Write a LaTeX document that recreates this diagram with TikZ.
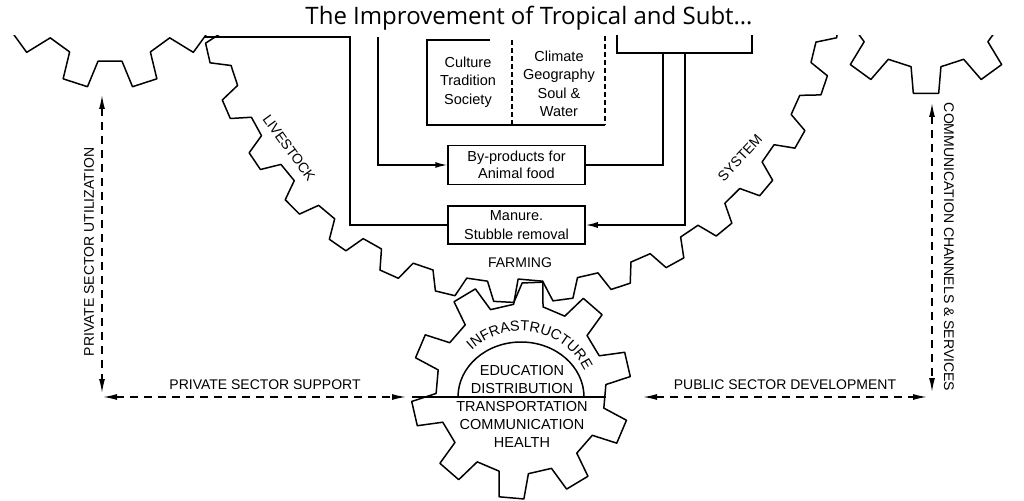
\documentclass[tikz,border=0pt]{standalone}
\usepackage{fontspec}
\setmainfont{Liberation Sans}
\newfontfamily\titlefont{Open Sans}
\usetikzlibrary{arrows.meta,decorations.text,calc}
\newcommand\drawgear[8]{%
  \pgfmathsetmacro\gearpitch{360/#5}%
  \pgfmathtruncatemacro\gearlast{#5-1}%
  \draw[gearline] ({#1+#3*cos(#6-#8)},{#2+#3*sin(#6-#8)})
    \foreach \k in {0,...,\gearlast}{
      -- ({#1+#3*cos(#6+\gearpitch*\k-#8)},{#2+#3*sin(#6+\gearpitch*\k-#8)})
      -- ({#1+#4*cos(#6+\gearpitch*\k-#7)},{#2+#4*sin(#6+\gearpitch*\k-#7)})
      -- ({#1+#4*cos(#6+\gearpitch*\k+#7)},{#2+#4*sin(#6+\gearpitch*\k+#7)})
      -- ({#1+#3*cos(#6+\gearpitch*\k+#8)},{#2+#3*sin(#6+\gearpitch*\k+#8)})
    } -- cycle;}
\begin{document}
\begin{tikzpicture}[x=1pt,y=-1pt,
  gearline/.style={line width=1.5pt,line join=round},
  wire/.style={line width=1.5pt},
  dwire/.style={line width=1.4pt,dash pattern=on 8pt off 6pt},
  arr/.style={-{Latex[length=12pt,width=6pt]}},
  darr/.style={{Latex[length=14pt,width=6pt]}-{Latex[length=14pt,width=6pt]}},
  boxnode/.style={draw,line width=1.5pt,minimum width=137pt,minimum height=39pt,inner sep=0pt,align=center,font=\fontsize{14.5}{17}\selectfont},
  lbl/.style={inner sep=0pt,font=\fontsize{14}{14}\selectfont},
  cell/.style={inner sep=0pt,align=center,font=\fontsize{14.5}{18.5}\selectfont},
  infra/.style={inner sep=0pt,align=center,font=\fontsize{14.5}{18}\selectfont}]
\useasboundingbox (0,0) rectangle (1024,500);
\fill[white] (0,0) rectangle (1024,500);
\node[font=\titlefont\fontsize{24}{28}\selectfont,anchor=base,inner sep=0pt] (title) at (529,25) {The Improvement of Tropical and Subt…};
\begin{scope}
\clip (0,36) rectangle (1024,500);
% gears
\drawgear{110}{-24}{86}{113}{10}{0}{6.5}{10}
\drawgear{926}{-18}{86}{112}{10}{18}{6.5}{10}
\drawgear{520.6}{-18.5}{301.5}{321}{34}{8.3}{1.8}{3.3}
\drawgear{521}{389}{85}{110}{10}{23}{6.5}{10}
% infrastructure gear interior
\draw[wire] (458,397) arc[start angle=180,end angle=0,x radius=63pt,y radius=55pt];
\draw[wire] (412,397) -- (606,397);
\coordinate (infraW) at (406,397);
\coordinate (infraE) at (643,397);
\path[decorate,decoration={text along path,text align=center,
  text={|\fontsize{14.5}{14.5}\selectfont|INFRASTRUCTURE}}]
  ($(521,402)+(145:71pt)$) arc[start angle=145,end angle=15,radius=71pt];
\node[infra] (infratext) at (522,406) {EDUCATION\\DISTRIBUTION\\TRANSPORTATION\\COMMUNICATION\\HEALTH};
% culture / climate box
\node[cell] (culture) at (468,82) {Culture\\Tradition\\Society};
\node[cell] (climate) at (559,84) {Climate\\Geography\\Soul \&\\Water};
\draw[wire,line width=1.9pt] (490,40) -- (427,40) -- (427,125) -- (605,125);
\draw[line width=1.3pt,dash pattern=on 5pt off 3pt] (512,40) -- (512,125);
\draw[line width=1.3pt,dash pattern=on 5pt off 3pt] (605,36) -- (605,125);
% boxes
\node[draw,line width=1.6pt,minimum width=135pt,minimum height=40pt,inner sep=0pt] (topbox) at (684.5,33) {};
\node[boxnode] (byprod) at (516.5,165) {By-products for\\Animal food};
\node[boxnode,minimum height=38pt,font=\fontsize{14.5}{19}\selectfont] (manure) at (516.5,225) {Manure.\\Stubble removal};
% connectors
\coordinate (gjoin) at (204,37);
\coordinate (lin1) at (350,37);
\coordinate (lin2) at (378,37);
\coordinate (tb1) at (663,53);
\coordinate (tb2) at (685,53);
\draw[wire] (gjoin) -- (lin1) |- (manure.west);
\draw[wire,arr] (lin2) |- (byprod.west);
\draw[wire] (byprod.east) -| (tb1);
\draw[wire,arr] (tb2) |- (manure.east);
% dashed arrows
\coordinate (pvT) at (102,95);
\coordinate (pvB) at (102,393);
\coordinate (phL) at (103,397);
\coordinate (cvT) at (932,103);
\coordinate (cvB) at (932,392);
\coordinate (chR) at (927,397);
\draw[dwire,darr] (pvT) -- (pvB);
\draw[dwire,darr] (phL) -- (infraW);
\draw[dwire,darr] (cvT) -- (cvB);
\draw[dwire,darr] (infraE) -- (chR);
% labels
\node[lbl,rotate=90] (psu) at (89,252) {PRIVATE SECTOR UTILIZATION};
\node[lbl] (pss) at (265,385) {PRIVATE SECTOR SUPPORT};
\node[lbl] (psd) at (785,385) {PUBLIC SECTOR DEVELOPMENT};
\node[lbl,rotate=-90] (ccs) at (949,247) {COMMUNICATION CHANNELS \& SERVICES};
\node[lbl,rotate=-54] (livestock) at (289,148) {LIVESTOCK};
\node[lbl,rotate=47] (system) at (740,158) {SYSTEM};
\node[lbl] (farming) at (520,263) {FARMING};
\end{scope}
\end{tikzpicture}
\end{document}
